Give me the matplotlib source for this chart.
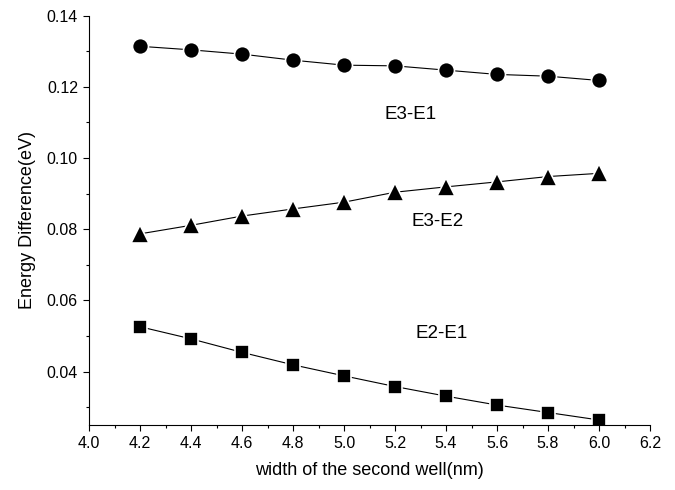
import matplotlib
matplotlib.use('Agg')
import matplotlib.pyplot as plt
from matplotlib.ticker import MultipleLocator

plt.rcParams['font.family'] = ['Liberation Sans', 'DejaVu Sans']

width = [4.2, 4.4, 4.6, 4.8, 5.0, 5.2, 5.4, 5.6, 5.8, 6.0]
e3_e1 = [0.1314, 0.1304, 0.1292, 0.1275, 0.1261, 0.1259, 0.1247, 0.1235, 0.1230, 0.1218]
e3_e2 = [0.0787, 0.0811, 0.0837, 0.0857, 0.0876, 0.0904, 0.0919, 0.0933, 0.0948, 0.0957]
e2_e1 = [0.0526, 0.0492, 0.0454, 0.0419, 0.0388, 0.0358, 0.0331, 0.0306, 0.0285, 0.0264]

fig = plt.figure(figsize=(6.75, 4.9), dpi=100)
ax = fig.add_axes([0.1319, 0.1327, 0.8311, 0.8353])

# white marker edge gives the small gap between line and symbol
style = dict(color='black', lw=0.8, markerfacecolor='black',
             markeredgecolor='white', markeredgewidth=1.2)
ax.plot(width, e3_e1, marker='o', ms=11.5, **style)
ax.plot(width, e3_e2, marker='^', ms=13, **style)
ax.plot(width, e2_e1, marker='s', ms=10.5, **style)

ax.text(5.16, 0.1121, 'E3-E1', fontsize=13.5, va='center')
ax.text(5.265, 0.0823, 'E3-E2', fontsize=13.5, va='center')
ax.text(5.28, 0.0508, 'E2-E1', fontsize=13.5, va='center')

ax.set_xlim(4.0, 6.2)
ax.set_ylim(0.025, 0.14)
ax.xaxis.set_minor_locator(MultipleLocator(0.1))
ax.yaxis.set_minor_locator(MultipleLocator(0.01))
ax.set_xticks([4.0, 4.2, 4.4, 4.6, 4.8, 5.0, 5.2, 5.4, 5.6, 5.8, 6.0, 6.2])
ax.set_xticklabels(['4.0', '4.2', '4.4', '4.6', '4.8', '5.0', '5.2', '5.4', '5.6', '5.8', '6.0', '6.2'])
ax.set_yticks([0.04, 0.06, 0.08, 0.10, 0.12, 0.14])
ax.set_yticklabels(['0.04', '0.06', '0.08', '0.10', '0.12', '0.14'])

ax.tick_params(which='major', direction='out', length=4.5, width=0.8, labelsize=11.5)
ax.tick_params(which='minor', direction='out', length=2.5, width=0.8)
for side in ['top', 'right']:
    ax.spines[side].set_visible(False)
for side in ['left', 'bottom']:
    ax.spines[side].set_linewidth(0.8)

ax.set_xlabel('width of the second well(nm)', fontsize=13, labelpad=8)
ax.set_ylabel('Energy Difference(eV)', fontsize=13, labelpad=8)

fig.savefig('out.png', dpi=100)
